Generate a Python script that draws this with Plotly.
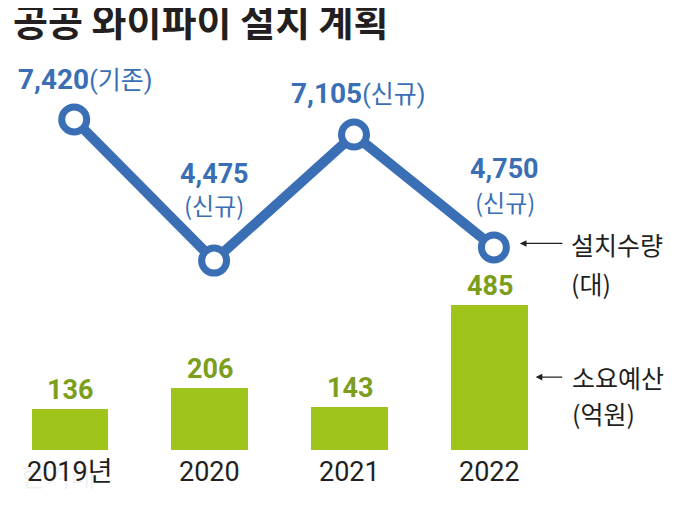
import plotly.graph_objects as go

# ---- data ----
years = ["2019년", "2020", "2021", "2022"]
units = [7420, 4475, 7105, 4750]          # 설치수량 (대)
unit_notes = ["기존", "신규", "신규", "신규"]
budget = [136, 206, 143, 485]             # 소요예산 (억원)

title_text = "공공 와이파이 설치 계획"
unit_label = ["설치수량", "(대)"]
budget_label = ["소요예산", "(억원)"]

# ---- style ----
BLUE = "#3a6fb5"
BAR_GREEN = "#9fc41b"
TXT_GREEN = "#7c9e1c"
DARK = "#231f20"
NUM_FONT = "Roboto, Noto Sans CJK KR, sans-serif"
KR_FONT = "Noto Sans CJK KR, sans-serif"
AXIS_FONT = "Roboto, Noto Sans CJK KR, sans-serif"

# page body has an 8px margin: the figure is sized to fit the window
W, H = 672, 498

idx = list(range(len(years)))

fig = go.Figure()
fig.add_trace(go.Bar(
    x=idx, y=budget, width=0.55, marker=dict(color=BAR_GREEN, line=dict(width=0)),
    xaxis="x", yaxis="y", hoverinfo="skip", showlegend=False,
))
fig.add_trace(go.Scatter(
    x=idx, y=units, mode="lines+markers",
    line=dict(color=BLUE, width=10),
    marker=dict(size=25, color="white", line=dict(color=BLUE, width=7)),
    xaxis="x2", yaxis="y2", hoverinfo="skip", showlegend=False,
))

ann = []
# watermark
ann.append(dict(x=0, y=0, xref="x", yref="y", text="한겨레", showarrow=False,
                xshift=-12, yshift=-26, font=dict(family=KR_FONT, size=27, color="rgba(0,0,0,0.07)")))

# line labels
line_offsets = [(11, 40), (0, 0), (4, 41), (11, 0)]
two_line_shift = {1: (87, 56), 3: (78, 46)}
for i, (v, note) in enumerate(zip(units, unit_notes)):
    if i in two_line_shift:
        s1, s2 = two_line_shift[i]
        dx = line_offsets[i][0]
        ann.append(dict(x=i, y=v, xref="x2", yref="y2", text=f"<b>{v:,}</b>", showarrow=False,
                        xshift=dx, yshift=s1, font=dict(family=NUM_FONT, size=27, color=BLUE)))
        ann.append(dict(x=i, y=v, xref="x2", yref="y2", text=f"({note})", showarrow=False,
                        xshift=dx, yshift=s2, font=dict(family=KR_FONT, size=24, color=BLUE)))
    else:
        dx, dy = line_offsets[i]
        ann.append(dict(x=i, y=v, xref="x2", yref="y2",
                        text=f"<b>{v:,}</b><span style='font-size:25px'>({note})</span>",
                        showarrow=False, xshift=dx, yshift=dy,
                        font=dict(family=NUM_FONT, size=28, color=BLUE)))

# bar labels
for i, b in enumerate(budget):
    ann.append(dict(x=i, y=b, xref="x", yref="y", text=f"<b>{b}</b>", showarrow=False,
                    yanchor="middle", yshift=19, font=dict(family=NUM_FONT, size=27, color=TXT_GREEN)))

# category labels
for i, yr in enumerate(years):
    ann.append(dict(x=i, y=0, xref="x", yref="y", text=yr, showarrow=False,
                    yanchor="middle", yshift=-22, font=dict(family=AXIS_FONT, size=27, color=DARK)))

# series labels + arrows
last = len(years) - 1
ann.append(dict(x=last, y=units[last], xref="x2", yref="y2", text="", showarrow=True,
                ax=44, ay=0, axref="pixel", ayref="pixel", xshift=26, yshift=4,
                arrowhead=2, arrowsize=1.1, arrowwidth=1.2, arrowcolor=DARK))
ann.append(dict(x=last, y=units[last], xref="x2", yref="y2", text=unit_label[0], showarrow=False,
                xanchor="left", xshift=75, yshift=3, font=dict(family=KR_FONT, size=25, color=DARK)))
ann.append(dict(x=last, y=units[last], xref="x2", yref="y2", text=unit_label[1], showarrow=False,
                xanchor="left", xshift=75, yshift=-36, font=dict(family=KR_FONT, size=25, color=DARK)))

ann.append(dict(x=last, y=budget[last] / 2, xref="x", yref="y", text="", showarrow=True,
                ax=28, ay=0, axref="pixel", ayref="pixel", xshift=46,
                arrowhead=2, arrowsize=1.1, arrowwidth=1.2, arrowcolor=DARK))
ann.append(dict(x=last, y=budget[last] / 2, xref="x", yref="y", text=budget_label[0], showarrow=False,
                xanchor="left", xshift=80, yshift=0, font=dict(family=KR_FONT, size=25, color=DARK)))
ann.append(dict(x=last, y=budget[last] / 2, xref="x", yref="y", text=budget_label[1], showarrow=False,
                xanchor="left", xshift=80, yshift=-36, font=dict(family=KR_FONT, size=25, color=DARK)))

xr = [-0.4432, 4.3603]
sh = -0.03
fig.update_layout(
    width=W, height=H, autosize=False,
    margin=dict(l=0, r=0, t=0, b=0, pad=0),
    paper_bgcolor="white", plot_bgcolor="white",
    title=dict(text=f"<b>{title_text}</b>", x=5 / W, xanchor="left", xref="paper",
               y=1 - 15 / H, yanchor="middle", yref="container",
               font=dict(family=KR_FONT, size=38, color=DARK, weight=900)),
    xaxis=dict(range=xr, visible=False, fixedrange=True),
    xaxis2=dict(range=[xr[0] + sh, xr[1] + sh], overlaying="x", visible=False),
    yaxis=dict(range=[-189.3, 1479.1], visible=False),
    yaxis2=dict(range=[-644.7, 9745.5], overlaying="y", visible=False),
    annotations=ann,
    bargap=0,
)

fig.write_html("out.html")
